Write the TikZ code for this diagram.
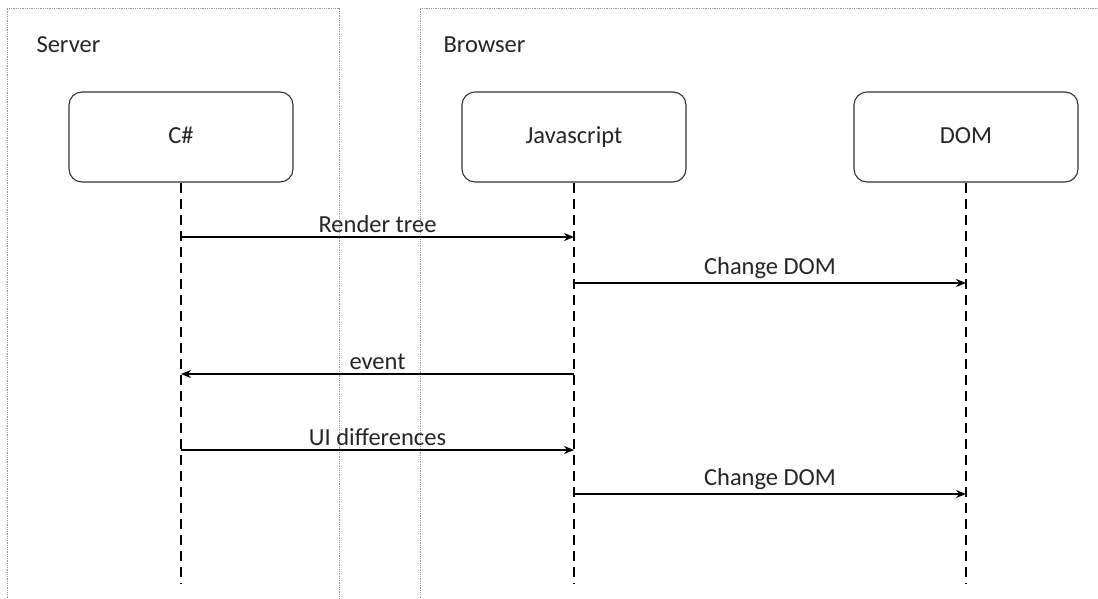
\documentclass[tikz,border=0pt]{standalone}
\usepackage{fontspec}
\setmainfont{Carlito}
\usetikzlibrary{arrows.meta}
\begin{document}
\begin{tikzpicture}[x=1pt,y=-1pt,
  txt/.style={font=\fontsize{24.5}{27}\selectfont, text=black!85},
  frame/.style={draw=gray!80, line width=0.8pt, densely dotted},
  actor/.style={txt, draw=black!80, line width=1.1pt, rounded corners=13pt, minimum width=224pt, minimum height=90pt, text height=16pt, text depth=4pt},
  life/.style={draw=black, line width=2.4pt, dash pattern=on 10pt off 6pt},
  msg/.style={draw=black, line width=2pt, -{Stealth[length=10pt,width=8pt]}},
  lbl/.style={txt, above=0pt}]
\useasboundingbox (0,0) rectangle (1098,598);
\fill[white] (0,0) rectangle (1098,598);
% frames
\draw[frame] (7,600) -- (7,8) -- (339,8) -- (339,600);
\draw[frame] (420,600) -- (420,8) -- (1100,8);
\node[txt, anchor=west] (srv) at (33,45) {Server};
\node[txt, anchor=west] (brw) at (440,45) {Browser};
% actors
\node[actor] (cs) at (181,137) {C\#};
\node[actor] (js) at (574,137) {Javascript};
\node[actor] (dom) at (966,137) {DOM};
\coordinate (csE) at (181,584);
\coordinate (jsE) at (574,584);
\coordinate (domE) at (966,584);
\draw[life] (cs.south) -- (csE);
\draw[life] (js.south) -- (jsE);
\draw[life] (dom.south) -- (domE);
% messages
\coordinate (a1) at (181,237); \coordinate (b1) at (574,237);
\coordinate (a2) at (574,283); \coordinate (b2) at (966,283);
\coordinate (a3) at (574,374); \coordinate (b3) at (181,374);
\coordinate (a4) at (181,450); \coordinate (b4) at (574,450);
\coordinate (a5) at (574,494); \coordinate (b5) at (966,494);
\draw[msg] (a1) -- node[lbl] {Render tree} (b1);
\draw[msg] (a2) -- node[lbl] {Change DOM} (b2);
\draw[msg] (a3) -- node[lbl] {event} (b3);
\draw[msg] (a4) -- node[lbl] {UI differences} (b4);
\draw[msg] (a5) -- node[lbl] {Change DOM} (b5);
\end{tikzpicture}
\end{document}
